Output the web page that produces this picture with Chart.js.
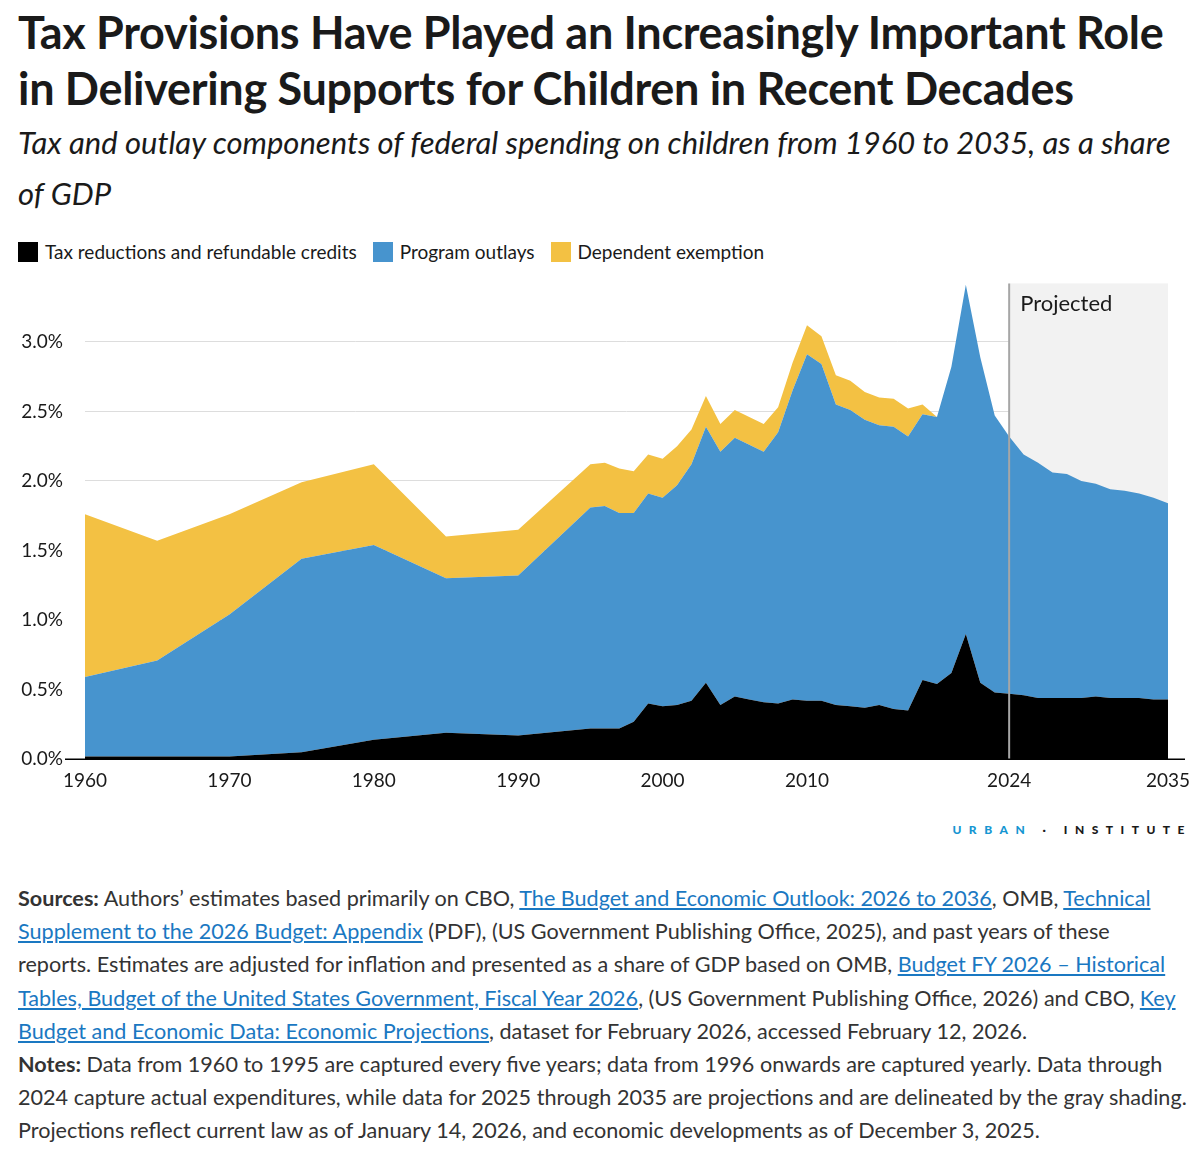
<!DOCTYPE html>
<html>
<head>
<meta charset="utf-8">
<script src="https://cdn.jsdelivr.net/npm/chart.js@4/dist/chart.umd.min.js"></script>
<style>
  body { margin: 0; width: 1200px; height: 1161px; background: #fff; font-family: Lato, "Open Sans", sans-serif; color: #1a1a1a; position: relative; overflow: hidden; }
  h1 { position: absolute; left: 18px; top: 4px; margin: 0; font-size: 45px; line-height: 56px; font-weight: 700; letter-spacing: -0.3px; white-space: nowrap; }
  .sub { position: absolute; left: 18px; top: 117px; width: 1170px; font-size: 31px; line-height: 51px; font-style: italic; }
  .legend { position: absolute; left: 18px; top: 240px; font-size: 19px; display: flex; gap: 16px; }
  .legend span { display: flex; align-items: center; }
  .legend i { display: inline-block; width: 20px; height: 20px; margin-right: 7px; }
  #wrap { position: absolute; left: 0; top: 250px; width: 1200px; height: 550px; }
  .logo { position: absolute; right: 8px; top: 822px; font-size: 12px; font-weight: 900; letter-spacing: 7.5px; }
  .logo b { color: #1696d2; }
  .notes { position: absolute; left: 18px; top: 882px; width: 1170px; font-size: 21.6px; line-height: 33.2px; color: #333; }
  .notes a { color: #1a78c2; text-decoration: underline; }
</style>
</head>
<body>
<h1>Tax Provisions Have Played an Increasingly Important Role<br>in Delivering Supports for Children in Recent Decades</h1>
<div class="sub">Tax and outlay components of federal spending on children from 1960 to 2035, as a share of GDP</div>
<div class="legend">
  <span><i style="background:#000"></i>Tax reductions and refundable credits</span>
  <span><i style="background:#4794ce"></i>Program outlays</span>
  <span><i style="background:#f3c143"></i>Dependent exemption</span>
</div>
<div id="wrap"><canvas id="c"></canvas></div>
<div class="logo"><b>URBAN</b> · INSTITUTE</div>
<div class="notes"><b>Sources:</b> Authors’ estimates based primarily on CBO, <a>The Budget and Economic Outlook: 2026 to 2036</a>, OMB, <a>Technical Supplement to the 2026 Budget: Appendix</a> (PDF), (US Government Publishing Office, 2025), and past years of these reports. Estimates are adjusted for inflation and presented as a share of GDP based on OMB, <a>Budget FY 2026 – Historical Tables, Budget of the United States Government, Fiscal Year 2026</a>, (US Government Publishing Office, 2026) and CBO, <a>Key Budget and Economic Data: Economic Projections</a>, dataset for February 2026, accessed February 12, 2026.<br><b>Notes:</b> Data from 1960 to 1995 are captured every five years; data from 1996 onwards are captured yearly. Data through 2024 capture actual expenditures, while data for 2025 through 2035 are projections and are delineated by the gray shading. Projections reflect current law as of January 14, 2026, and economic developments as of December 3, 2025.</div>
<script>
const years = [1960, 1965, 1970, 1975, 1980, 1985, 1990, 1995,
  1996, 1997, 1998, 1999, 2000, 2001, 2002, 2003, 2004, 2005, 2006, 2007, 2008, 2009,
  2010, 2011, 2012, 2013, 2014, 2015, 2016, 2017, 2018, 2019, 2020, 2021, 2022, 2023,
  2024, 2025, 2026, 2027, 2028, 2029, 2030, 2031, 2032, 2033, 2034, 2035];

// percent of GDP
const taxCredits = [0.02, 0.02, 0.02, 0.05, 0.14, 0.19, 0.17, 0.22,
  0.22, 0.22, 0.27, 0.40, 0.38, 0.39, 0.42, 0.55, 0.39, 0.45, 0.43, 0.41, 0.40, 0.43,
  0.42, 0.42, 0.39, 0.38, 0.37, 0.39, 0.36, 0.35, 0.57, 0.54, 0.62, 0.90, 0.55, 0.48,
  0.47, 0.46, 0.44, 0.44, 0.44, 0.44, 0.45, 0.44, 0.44, 0.44, 0.43, 0.43];
const outlays = [0.57, 0.69, 1.02, 1.39, 1.40, 1.11, 1.15, 1.59,
  1.60, 1.55, 1.50, 1.51, 1.50, 1.58, 1.70, 1.84, 1.82, 1.86, 1.83, 1.80, 1.95, 2.22,
  2.49, 2.42, 2.16, 2.13, 2.07, 2.01, 2.03, 1.97, 1.91, 1.92, 2.20, 2.51, 2.34, 1.99,
  1.85, 1.73, 1.69, 1.62, 1.61, 1.56, 1.53, 1.50, 1.49, 1.47, 1.45, 1.41];
const exemption = [1.17, 0.86, 0.72, 0.55, 0.58, 0.30, 0.33, 0.31,
  0.31, 0.32, 0.30, 0.28, 0.28, 0.28, 0.25, 0.22, 0.20, 0.20, 0.20, 0.20, 0.18, 0.20,
  0.21, 0.20, 0.21, 0.21, 0.20, 0.20, 0.20, 0.20, 0.07, 0, 0, 0, 0, 0,
  0, 0, 0, 0, 0, 0, 0, 0, 0, 0, 0, 0];
const xTicks = [1960, 1970, 1980, 1990, 2000, 2010, 2024, 2035];
const yTicks = [0, 0.5, 1, 1.5, 2, 2.5, 3];
const projStart = 2024, projEnd = 2035;

const pts = arr => years.map((y, i) => ({ x: y, y: arr[i] }));
const ds = (label, arr, color, fill) => ({
  label, data: pts(arr), backgroundColor: color, borderColor: color,
  borderWidth: 0, pointRadius: 0, fill, tension: 0,
});

const projected = {
  id: 'projected',
  beforeDatasetsDraw(chart) {
    const { ctx, chartArea, scales: { x } } = chart;
    const x0 = x.getPixelForValue(projStart), x1 = x.getPixelForValue(projEnd);
    ctx.save();
    ctx.fillStyle = '#f2f2f2';
    ctx.fillRect(x0, chartArea.top, x1 - x0, chartArea.bottom - chartArea.top);
    ctx.restore();
  },
  afterDatasetsDraw(chart) {
    const { ctx, chartArea, scales: { x } } = chart;
    const x0 = x.getPixelForValue(projStart);
    ctx.save();
    ctx.strokeStyle = '#a6a6a6';
    ctx.lineWidth = 2;
    ctx.beginPath(); ctx.moveTo(x0, chartArea.top); ctx.lineTo(x0, chartArea.bottom); ctx.stroke();
    ctx.fillStyle = '#1a1a1a';
    ctx.font = '22px Lato';
    ctx.textBaseline = 'top';
    ctx.fillText('Projected', x0 + 11, chartArea.top + 10);
    ctx.strokeStyle = '#000'; ctx.lineWidth = 1.5;
    ctx.beginPath(); ctx.moveTo(65, chartArea.bottom); ctx.lineTo(1185, chartArea.bottom); ctx.stroke();
    ctx.restore();
  }
};

new Chart(document.getElementById('c'), {
  type: 'line',
  data: {
    datasets: [
      ds('Tax reductions and refundable credits', taxCredits, '#000000', 'origin'),
      ds('Program outlays', outlays, '#4794ce', '-1'),
      ds('Dependent exemption', exemption, '#f3c143', '-1'),
    ],
  },
  options: {
    responsive: true,
    maintainAspectRatio: false,
    animation: false,
    layout: { padding: { top: 32, right: 32, bottom: 6, left: 0 } },
    plugins: { legend: { display: false }, tooltip: { enabled: false } },
    scales: {
      x: {
        type: 'linear', min: 1960, max: 2035,
        afterBuildTicks: s => { s.ticks = xTicks.map(v => ({ value: v })); },
        ticks: { color: '#1a1a1a', font: { family: 'Lato', size: 19 }, maxRotation: 0, padding: 2, callback: v => String(v) },
        grid: { display: false }, border: { display: false },
      },
      y: {
        stacked: true, min: 0, max: 3.42,
        afterBuildTicks: s => { s.ticks = yTicks.map(v => ({ value: v })); },
        afterFit: s => { s.width = 85; },
        ticks: { color: '#1a1a1a', font: { family: 'Lato', size: 19 }, padding: 22, callback: v => v.toFixed(1) + '%' },
        grid: { color: '#dddddd', drawTicks: false }, border: { display: false },
      },
    },
  },
  plugins: [projected],
});
</script>
</body>
</html>
